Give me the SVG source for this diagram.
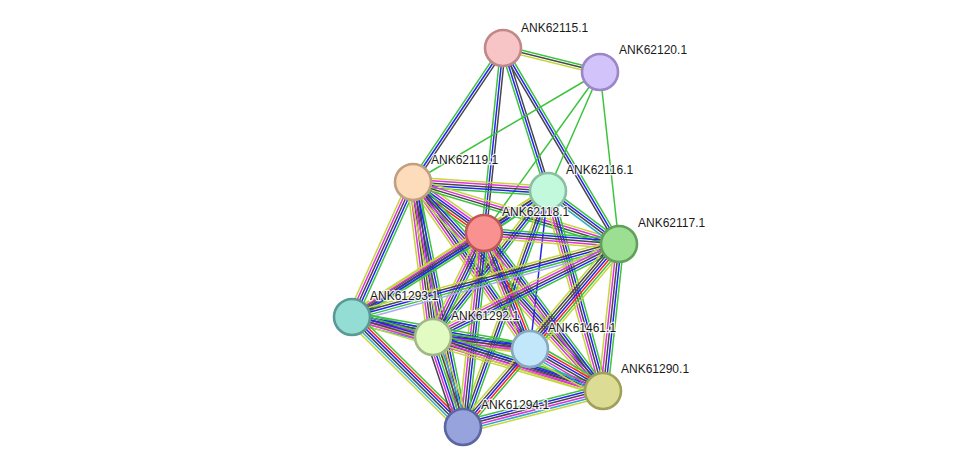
<svg xmlns="http://www.w3.org/2000/svg" width="976" height="472" viewBox="0 0 976 472">
<style>
#edges path,#edges line{fill:none;stroke-width:1.5}
.g{stroke:#3cc43c}.b{stroke:#2424f0}.k{stroke:#474747}.m{stroke:#dd33dd}.y{stroke:#c5d63a}.r{stroke:#ff2222}.c{stroke:#2aaccc}.l{stroke:#a8a8f8}
.node circle{stroke-width:2.6}
.lbl{font-family:"Liberation Sans",Arial,sans-serif;font-size:12px;fill:#1a1a1a;stroke:#fff;stroke-width:2.5;stroke-opacity:0.85;paint-order:stroke;stroke-linejoin:round}
</style>
<rect width="976" height="472" fill="#fff"/>
<g id="edges">
<g transform="translate(503 48) rotate(13.9)"><path class="g" d="M0 -2.4H99.9"/><path class="k" d="M0 0H99.9"/><path class="y" d="M0 2.4H99.9"/></g>
<g transform="translate(503 48) rotate(123.9)"><path class="k" d="M0 -2.4H161.4"/><path class="b" d="M0 0H161.4"/><path class="g" d="M0 2.4H161.4"/></g>
<g transform="translate(503 48) rotate(95.9)"><path class="k" d="M0 -2.4H186"/><path class="b" d="M0 0H186"/><path class="g" d="M0 2.4H186"/></g>
<g transform="translate(503 48) rotate(72.5)"><path class="k" d="M0 -2.4H149.9"/><path class="b" d="M0 0H149.9"/><path class="g" d="M0 2.4H149.9"/></g>
<g transform="translate(503 48) rotate(59.4)"><path class="g" d="M0 -2.4H227.8"/><path class="b" d="M0 0H227.8"/><path class="k" d="M0 2.4H227.8"/></g>
<line class="g" x1="600" y1="72" x2="413" y2="182"/>
<line class="g" x1="600" y1="72" x2="484" y2="233"/>
<line class="g" x1="600" y1="72" x2="548" y2="191"/>
<line class="g" x1="600" y1="72" x2="619" y2="244"/>
<g transform="translate(413 182) rotate(3.8)"><path class="y" d="M0 -4.8H135.3"/><path class="m" d="M0 -2.4H135.3"/><path class="k" d="M0 0H135.3"/><path class="b" d="M0 2.4H135.3"/><path class="g" d="M0 4.8H135.3"/></g>
<g transform="translate(413 182) rotate(35.7)"><path class="y" d="M0 -6H87.4"/><path class="m" d="M0 -3.6H87.4"/><path class="b" d="M0 -1.2H87.4"/><path class="k" d="M0 1.2H87.4"/><path class="r" d="M0 3.6H87.4"/><path class="g" d="M0 6H87.4"/></g>
<g transform="translate(413 182) rotate(16.75)"><path class="y" d="M0 -3.6H215.1"/><path class="m" d="M0 -1.2H215.1"/><path class="k" d="M0 1.2H215.1"/><path class="g" d="M0 3.6H215.1"/></g>
<g transform="translate(413 182) rotate(114.3)"><path class="g" d="M0 -4.8H148.1"/><path class="b" d="M0 -2.4H148.1"/><path class="k" d="M0 0H148.1"/><path class="m" d="M0 2.4H148.1"/><path class="y" d="M0 4.8H148.1"/></g>
<g transform="translate(413 182) rotate(82.6)"><path class="g" d="M0 -6H156.3"/><path class="b" d="M0 -3.6H156.3"/><path class="k" d="M0 -1.2H156.3"/><path class="k" d="M0 1.2H156.3"/><path class="m" d="M0 3.6H156.3"/><path class="y" d="M0 6H156.3"/></g>
<g transform="translate(413 182) rotate(55)"><path class="g" d="M0 -4.8H203.9"/><path class="b" d="M0 -2.4H203.9"/><path class="k" d="M0 0H203.9"/><path class="m" d="M0 2.4H203.9"/><path class="y" d="M0 4.8H203.9"/></g>
<g transform="translate(413 182) rotate(47.7)"><path class="g" d="M0 -4.8H282.5"/><path class="b" d="M0 -2.4H282.5"/><path class="k" d="M0 0H282.5"/><path class="m" d="M0 2.4H282.5"/><path class="y" d="M0 4.8H282.5"/></g>
<g transform="translate(413 182) rotate(78.5)"><path class="g" d="M0 -4.8H250"/><path class="b" d="M0 -2.4H250"/><path class="k" d="M0 0H250"/><path class="m" d="M0 2.4H250"/><path class="y" d="M0 4.8H250"/></g>
<g transform="translate(548 191) rotate(146.7)"><path class="g" d="M0 -3.6H76.6"/><path class="b" d="M0 -1.2H76.6"/><path class="k" d="M0 1.2H76.6"/><path class="y" d="M0 3.6H76.6"/></g>
<g transform="translate(548 191) rotate(36.7)"><path class="g" d="M0 -3.6H88.6"/><path class="b" d="M0 -1.2H88.6"/><path class="k" d="M0 1.2H88.6"/><path class="c" d="M0 3.6H88.6"/></g>
<g transform="translate(548 191) rotate(147.3)"><path class="g" d="M0 -3.6H233"/><path class="b" d="M0 -1.2H233"/><path class="k" d="M0 1.2H233"/><path class="y" d="M0 3.6H233"/></g>
<g transform="translate(548 191) rotate(128.2)"><path class="g" d="M0 -3.6H185.9"/><path class="b" d="M0 -1.2H185.9"/><path class="k" d="M0 1.2H185.9"/><path class="y" d="M0 3.6H185.9"/></g>
<line class="b" x1="548" y1="191" x2="530" y2="349"/>
<g transform="translate(548 191) rotate(74.6)"><path class="g" d="M0 -4.8H207.4"/><path class="b" d="M0 -2.4H207.4"/><path class="k" d="M0 0H207.4"/><path class="m" d="M0 2.4H207.4"/><path class="y" d="M0 4.8H207.4"/></g>
<g transform="translate(548 191) rotate(109.8)"><path class="g" d="M0 -3.6H250.8"/><path class="b" d="M0 -1.2H250.8"/><path class="k" d="M0 1.2H250.8"/><path class="y" d="M0 3.6H250.8"/></g>
<g transform="translate(484 233) rotate(4.66)"><path class="g" d="M0 -4.8H135.4"/><path class="b" d="M0 -2.4H135.4"/><path class="k" d="M0 0H135.4"/><path class="m" d="M0 2.4H135.4"/><path class="y" d="M0 4.8H135.4"/></g>
<g transform="translate(484 233) rotate(147.5)"><path class="g" d="M0 -4.8H156.5"/><path class="b" d="M0 -2.4H156.5"/><path class="k" d="M0 0H156.5"/><path class="m" d="M0 2.4H156.5"/><path class="y" d="M0 4.8H156.5"/></g>
<g transform="translate(484 233) rotate(116.1)"><path class="g" d="M0 -4.8H115.8"/><path class="b" d="M0 -2.4H115.8"/><path class="k" d="M0 0H115.8"/><path class="m" d="M0 2.4H115.8"/><path class="y" d="M0 4.8H115.8"/></g>
<g transform="translate(484 233) rotate(68.4)"><path class="g" d="M0 -6H124.8"/><path class="r" d="M0 -3.6H124.8"/><path class="b" d="M0 -1.2H124.8"/><path class="k" d="M0 1.2H124.8"/><path class="m" d="M0 3.6H124.8"/><path class="y" d="M0 6H124.8"/></g>
<g transform="translate(484 233) rotate(53)"><path class="g" d="M0 -4.8H197.8"/><path class="b" d="M0 -2.4H197.8"/><path class="k" d="M0 0H197.8"/><path class="m" d="M0 2.4H197.8"/><path class="y" d="M0 4.8H197.8"/></g>
<g transform="translate(484 233) rotate(96.2)"><path class="g" d="M0 -4.8H195.1"/><path class="b" d="M0 -2.4H195.1"/><path class="k" d="M0 0H195.1"/><path class="m" d="M0 2.4H195.1"/><path class="y" d="M0 4.8H195.1"/></g>
<g transform="translate(619 244) rotate(164.7)"><path class="l" d="M0 -4.8H276.8"/><path class="g" d="M0 -2.4H276.8"/><path class="b" d="M0 0H276.8"/><path class="k" d="M0 2.4H276.8"/><path class="y" d="M0 4.8H276.8"/></g>
<g transform="translate(619 244) rotate(153.4)"><path class="g" d="M0 -4.8H208"/><path class="b" d="M0 -2.4H208"/><path class="k" d="M0 0H208"/><path class="m" d="M0 2.4H208"/><path class="y" d="M0 4.8H208"/></g>
<g transform="translate(619 244) rotate(130.3)"><path class="y" d="M0 -7.2H137.6"/><path class="g" d="M0 -4.8H137.6"/><path class="r" d="M0 -2.4H137.6"/><path class="b" d="M0 0H137.6"/><path class="k" d="M0 2.4H137.6"/><path class="k" d="M0 4.8H137.6"/><path class="y" d="M0 7.2H137.6"/></g>
<g transform="translate(619 244) rotate(96.2)"><path class="g" d="M0 -4.8H147.9"/><path class="b" d="M0 -2.4H147.9"/><path class="k" d="M0 0H147.9"/><path class="m" d="M0 2.4H147.9"/><path class="y" d="M0 4.8H147.9"/></g>
<g transform="translate(352 317) rotate(13.9)"><path class="g" d="M0 -6H83.4"/><path class="b" d="M0 -3.6H83.4"/><path class="k" d="M0 -1.2H83.4"/><path class="m" d="M0 1.2H83.4"/><path class="y" d="M0 3.6H83.4"/><path class="c" d="M0 6H83.4"/></g>
<g transform="translate(352 317) rotate(10.2)"><path class="g" d="M0 -4.8H180.9"/><path class="b" d="M0 -2.4H180.9"/><path class="k" d="M0 0H180.9"/><path class="m" d="M0 2.4H180.9"/><path class="y" d="M0 4.8H180.9"/></g>
<g transform="translate(352 317) rotate(16.4)"><path class="g" d="M0 -4.8H261.7"/><path class="b" d="M0 -2.4H261.7"/><path class="k" d="M0 0H261.7"/><path class="m" d="M0 2.4H261.7"/><path class="y" d="M0 4.8H261.7"/></g>
<g transform="translate(352 317) rotate(44.7)"><path class="g" d="M0 -6H156.3"/><path class="r" d="M0 -3.6H156.3"/><path class="b" d="M0 -1.2H156.3"/><path class="k" d="M0 1.2H156.3"/><path class="c" d="M0 3.6H156.3"/><path class="y" d="M0 6H156.3"/></g>
<g transform="translate(433 337) rotate(7.05)"><path class="g" d="M0 -4.8H97.7"/><path class="b" d="M0 -2.4H97.7"/><path class="k" d="M0 0H97.7"/><path class="m" d="M0 2.4H97.7"/><path class="y" d="M0 4.8H97.7"/></g>
<g transform="translate(433 337) rotate(17.6)"><path class="g" d="M0 -4.8H178.4"/><path class="b" d="M0 -2.4H178.4"/><path class="k" d="M0 0H178.4"/><path class="m" d="M0 2.4H178.4"/><path class="y" d="M0 4.8H178.4"/></g>
<g transform="translate(433 337) rotate(71.6)"><path class="y" d="M0 -7.2H94.9"/><path class="c" d="M0 -4.8H94.9"/><path class="k" d="M0 -2.4H94.9"/><path class="g" d="M0 0H94.9"/><path class="b" d="M0 2.4H94.9"/><path class="m" d="M0 4.8H94.9"/><path class="k" d="M0 7.2H94.9"/></g>
<g transform="translate(530 349) rotate(29.9)"><path class="g" d="M0 -7.2H84.2"/><path class="r" d="M0 -4.8H84.2"/><path class="b" d="M0 -2.4H84.2"/><path class="k" d="M0 0H84.2"/><path class="m" d="M0 2.4H84.2"/><path class="c" d="M0 4.8H84.2"/><path class="y" d="M0 7.2H84.2"/></g>
<g transform="translate(530 349) rotate(130.7)"><path class="g" d="M0 -4.8H102.8"/><path class="r" d="M0 -2.4H102.8"/><path class="b" d="M0 0H102.8"/><path class="k" d="M0 2.4H102.8"/><path class="y" d="M0 4.8H102.8"/></g>
<g transform="translate(603 391) rotate(165.6)"><path class="y" d="M0 -6H144.6"/><path class="c" d="M0 -3.6H144.6"/><path class="m" d="M0 -1.2H144.6"/><path class="k" d="M0 1.2H144.6"/><path class="b" d="M0 3.6H144.6"/><path class="g" d="M0 6H144.6"/></g>
</g>
<g id="n115" class="node"><circle cx="503" cy="48" r="18" fill="#f7c5c5" stroke="#c08888"/></g>
<g id="n120" class="node"><circle cx="600" cy="72" r="18" fill="#d2c3fa" stroke="#9b86c8"/></g>
<g id="n119" class="node"><circle cx="413" cy="182" r="18" fill="#fddcbc" stroke="#c0a080"/></g>
<g id="n116" class="node"><circle cx="548" cy="191" r="18" fill="#c2f8dc" stroke="#88c0a0"/></g>
<g id="n118" class="node"><circle cx="484" cy="233" r="18" fill="#f99191" stroke="#c05858"/></g>
<g id="n117" class="node"><circle cx="619" cy="244" r="18" fill="#9ddf92" stroke="#60a058"/></g>
<g id="n1293" class="node"><circle cx="352" cy="317" r="18" fill="#94ddd4" stroke="#5a9a94"/></g>
<g id="n1292" class="node"><circle cx="433" cy="337" r="18" fill="#e2fbc2" stroke="#a0b888"/></g>
<g id="n1461" class="node"><circle cx="530" cy="349" r="18" fill="#c2e6fa" stroke="#88a8c0"/></g>
<g id="n1290" class="node"><circle cx="603" cy="391" r="18" fill="#dcdc94" stroke="#a0a058"/></g>
<g id="n1294" class="node"><circle cx="463" cy="427" r="18" fill="#97a3dc" stroke="#5a66a0"/></g>
<g id="labels">
<text class="lbl" x="521" y="32">ANK62115.1</text>
<text class="lbl" x="619" y="54">ANK62120.1</text>
<text class="lbl" x="431" y="164">ANK62119.1</text>
<text class="lbl" x="566" y="174">ANK62116.1</text>
<text class="lbl" x="502" y="216">ANK62118.1</text>
<text class="lbl" x="638" y="227">ANK62117.1</text>
<text class="lbl" x="370" y="300">ANK61293.1</text>
<text class="lbl" x="451" y="320">ANK61292.1</text>
<text class="lbl" x="548" y="332">ANK61461.1</text>
<text class="lbl" x="621" y="373">ANK61290.1</text>
<text class="lbl" x="481" y="409">ANK61294.1</text>
</g>
</svg>
